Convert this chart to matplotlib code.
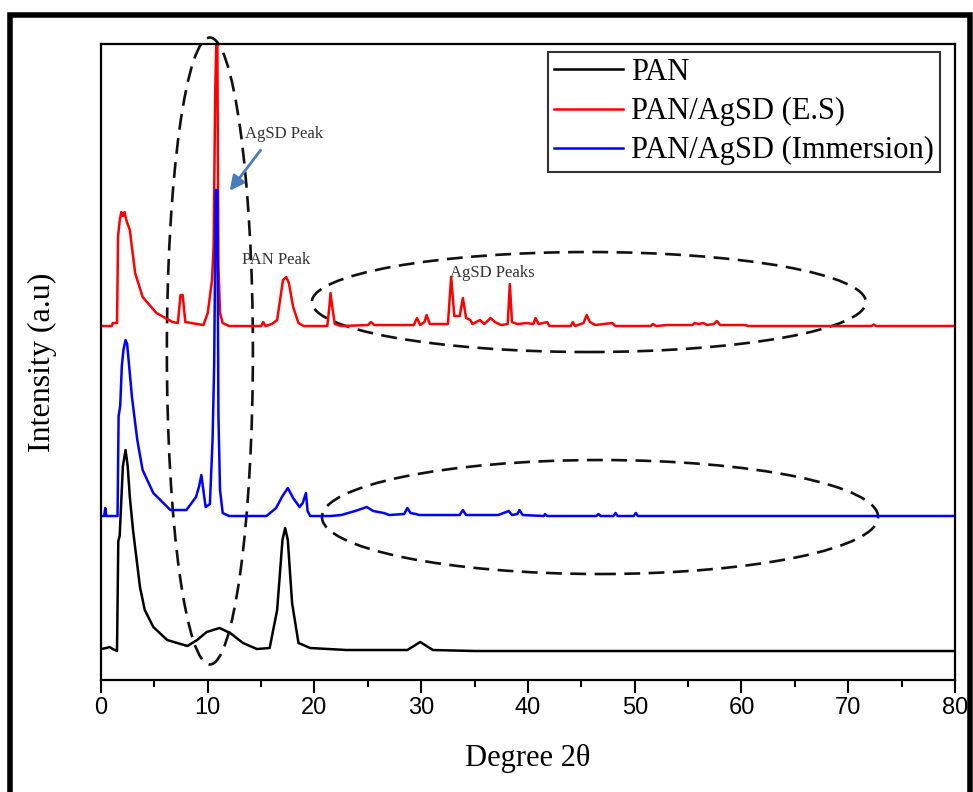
import matplotlib.pyplot as plt
import matplotlib
from matplotlib.patches import Ellipse, Rectangle

matplotlib.rcParams['font.family'] = ['Liberation Serif', 'DejaVu Serif']

# 2theta 값과 세기 (기준선 위 높이, 임의 단위)
pan_x = [0, 0.5, 0.8, 1.1, 1.5, 1.62, 1.75, 1.9, 2.05, 2.3, 2.5, 2.7, 3.0, 3.65, 4.1, 4.9,
         6.2, 8.1, 9.0, 9.9, 11.1, 12.1, 13.3, 14.6, 15.8, 16.5, 17.0, 17.25, 17.5, 17.9,
         18.5, 19.6, 23.0, 26.0, 28.7, 29.9, 31.1, 35.0, 80.0]
pan_y = [2, 3, 4, 2, 0, 110, 115, 150, 185, 201, 185, 154, 121, 64, 41, 24,
         11, 5, 11, 19, 23, 18, 8, 2, 3, 41, 111, 123, 111, 48,
         8, 3, 1, 1, 1, 9, 1, 0, 0]

es_x = [0, 1.0, 1.1, 1.5, 1.6, 1.75, 1.9, 2.05, 2.2, 2.4, 2.7, 3.2, 3.9, 5.2, 6.7, 7.2, 7.45,
        7.65, 7.9, 9.6, 10.0, 10.4, 10.55, 10.7, 10.8, 10.9, 11.0, 11.15, 11.4, 12.0, 15.0,
        15.2, 15.4, 16.0, 16.5, 17.05, 17.35, 17.6, 18.0, 18.5, 19.0, 21.2, 21.4, 21.5, 21.65,
        21.9, 22.5, 25.0, 25.3, 25.6, 29.3, 29.6, 29.9, 30.3, 30.5, 30.8, 32.5, 32.8, 33.1,
        33.6, 33.9, 34.2, 34.6, 34.8, 35.5, 35.9, 36.5, 36.9, 37.5, 38.1, 38.3, 38.5, 39.0,
        39.9, 40.5, 40.7, 41.0, 41.8, 42.0, 44.0, 44.2, 44.4, 45.2, 45.5, 45.8, 46.3, 47.9,
        48.2, 51.5, 51.7, 52.0, 53.0, 55.4, 55.6, 56.0, 56.4, 56.8, 57.4, 57.7, 58.0, 60.4,
        60.6, 72.2, 72.4, 72.6, 80.0]
es_y = [0, 0, 3, 3, 90, 105, 114, 110, 114, 105, 96, 53, 29, 13, 4, 3, 31,
        31, 4, 1, 13, 46, 80, 234, 281, 281, 60, 13, 3, 0, 0,
        4, 0, 2, 6, 46, 49, 43, 19, 3, 0, 0, 20, 33, 20,
        2, 0, 1, 4, 1, 1, 8, 1, 4, 11, 2, 2, 49, 10,
        10, 28, 8, 6, 2, 6, 2, 8, 4, 1, 2, 42, 4, 2,
        3, 2, 8, 2, 4, 0, 0, 4, 0, 3, 11, 4, 1, 3,
        0, 0, 2, 0, 1, 1, 3, 2, 3, 1, 2, 5, 1, 1,
        0, 0, 1.5, 0, 0]

imm_x = [0, 0.3, 0.4, 0.5, 1.55, 1.65, 1.8, 1.95, 2.1, 2.3, 2.45, 2.9, 3.4, 3.9, 4.9, 6.5, 8.0,
         8.9, 9.2, 9.4, 9.6, 9.8, 10.2, 10.45, 10.6, 10.75, 10.9, 11.0, 11.15, 11.4, 12.0,
         15.5, 16.4, 17.0, 17.5, 18.0, 18.6, 18.9, 19.2, 19.35, 19.6, 21.5, 22.5, 23.8, 24.9,
         25.5, 26.5, 27.0, 28.4, 28.7, 29.0, 29.5, 29.8, 33.6, 33.9, 34.2, 37.2, 37.7, 38.2,
         38.5, 39.0, 39.2, 39.5, 41.5, 41.6, 41.8, 46.4, 46.6, 46.8, 48.0, 48.2, 48.4, 49.9,
         50.1, 50.3, 80.0]
imm_y = [0, 0, 8, 0, 0, 100, 110, 150, 166, 176, 172, 119, 76, 46, 23, 6, 6,
         19, 30, 41, 25, 9, 12, 76, 150, 326, 326, 100, 26, 3, 0,
         0, 8, 20, 28, 18, 9, 13, 23, 5, 0, 0, 1, 5, 9,
         5, 3, 1, 2, 8, 3, 2, 1, 1, 6, 1, 1, 3, 5,
         1, 2, 6, 1, 0, 2, 0, 0, 2, 0, 0, 3, 0, 0,
         3, 0, 0]

# 곡선별 세로 위치
pan_base = 29
es_base = 354
imm_base = 164

fig = plt.figure(figsize=(9.73, 7.92), dpi=100)
ax = fig.add_axes([0.1038, 0.1414, 0.8777, 0.803])

ax.plot(pan_x, [v + pan_base for v in pan_y], color='black', lw=1.8, label='PAN')
ax.plot(es_x, [v + es_base for v in es_y], color='#ff0000', lw=1.8, label='PAN/AgSD (E.S)')
ax.plot(imm_x, [v + imm_base for v in imm_y], color='#0000ff', lw=1.8, label='PAN/AgSD (Immersion)')

# 점선 타원
ell_style = dict(fill=False, edgecolor='#111111', lw=1.9, linestyle=(0, (6, 3.2)), clip_on=False)
ax.add_patch(Ellipse((10.2, 329), 8.06, 627, **ell_style))
ax.add_patch(Ellipse((45.7, 378), 51.9, 100, **ell_style))
ax.add_patch(Ellipse((46.75, 163), 52.1, 114, **ell_style))

# 주석
ax.text(13.5, 542, 'AgSD Peak', fontsize=12, color='#333333')
ax.text(13.2, 416, 'PAN Peak', fontsize=12, color='#333333')
ax.text(32.7, 403, 'AgSD Peaks', fontsize=12, color='#333333')
ax.annotate('', xy=(11.9, 487), xytext=(15.1, 532),
            arrowprops=dict(arrowstyle='-|>', color='#4a7ebb', lw=2, mutation_scale=22))

ax.set_xlim(0, 80)
ax.set_ylim(0, 636)
ax.set_xticks(range(0, 81, 10))
ax.set_xticks(range(5, 80, 10), minor=True)
ax.set_yticks([])
ax.tick_params(axis='x', which='major', direction='out', length=9, width=1.5, pad=3)
ax.tick_params(axis='x', which='minor', direction='out', length=5, width=1.5)
for lab in ax.get_xticklabels():
    lab.set_family(['Liberation Sans Narrow', 'Liberation Sans', 'DejaVu Sans'])
    lab.set_fontsize(17)
for sp in ax.spines.values():
    sp.set_linewidth(1.6)

ax.set_xlabel('Degree 2θ', fontsize=22, labelpad=18)
ax.set_ylabel('Intensity (a.u)', fontsize=23, labelpad=32)

leg = ax.legend(loc='upper right', bbox_to_anchor=(0.9824, 0.9874), borderaxespad=0,
                fontsize=22, handlelength=2.25, handletextpad=0.26, labelspacing=0.33,
                borderpad=0.2, fancybox=False, framealpha=1)
leg.get_frame().set_edgecolor('#333333')
leg.get_frame().set_linewidth(1.5)

# 바깥 테두리
fig.patches.append(Rectangle((10 / 973, -0.1), 960 / 973, 1.1 - 15 / 792,
                             transform=fig.transFigure, fill=False, edgecolor='black',
                             lw=4, clip_on=False))

plt.savefig('out.png', dpi=100)
